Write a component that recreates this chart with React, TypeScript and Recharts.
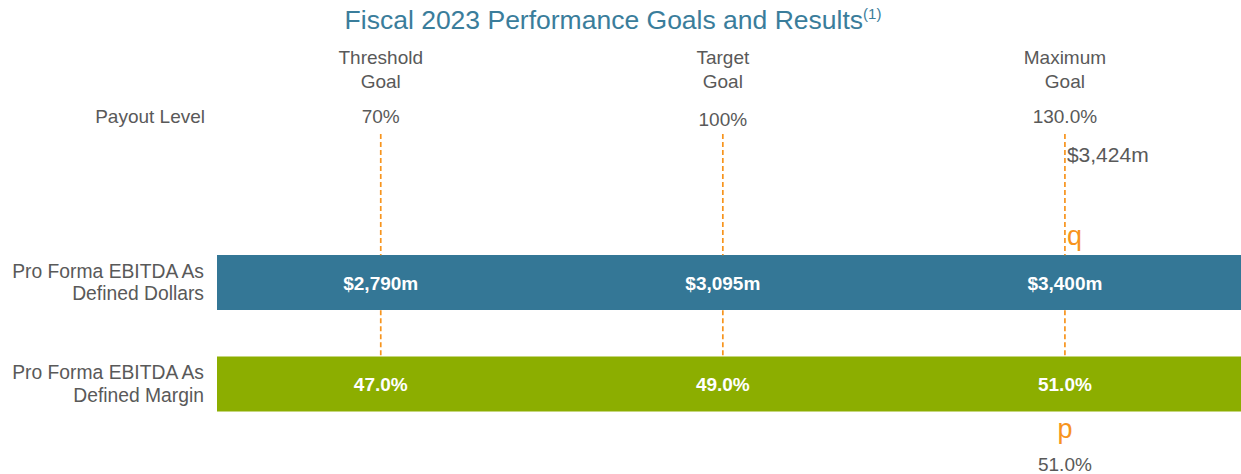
import React from "react";
import { BarChart, Bar, XAxis, YAxis, ReferenceLine, Cell } from "recharts";

// rows of the chart (y categories)
const rowNames = ["dollars", "margin"];
const rowLabels = [
	["Pro Forma EBITDA As", "Defined Dollars"],
	["Pro Forma EBITDA As", "Defined Margin"],
];
const rowColors = ["#347796", "#8cae00"];

// goals (x positions come from the dollar goals)
const goalNames = [
	["Threshold", "Goal"],
	["Target", "Goal"],
	["Maximum", "Goal"],
];
const payoutLevels = ["70%", "100%", "130.0%"];
const dollarGoals = [2790, 3095, 3400];
const marginGoals = [47.0, 49.0, 51.0];

// fiscal 2023 results
const actualDollars = 3424;
const actualMargin = 51.0;

const AXIS_MIN = 2644;
const AXIS_MAX = 3557;

const WIDTH = 1241;
const HEIGHT = 474;
const BAR_SIZE = 55;
const GUIDE_TOP = 134;
const GRAY = "#595959";
const ORANGE = "#f7941d";
const FONT = "'Liberation Sans', Arial, sans-serif";

const rows = rowNames.map((name) => ({ name, span: [AXIS_MIN, AXIS_MAX] }));

const fmtDollars = (v: number) => `$${v.toLocaleString("en-US")}m`;
const fmtPct = (v: number) => `${v.toFixed(1)}%`;

function bandInfo(y1: number, y2: number) {
	const top = Math.min(y1, y2);
	const bottom = Math.max(y1, y2);
	const band = (bottom - top) / rowNames.length;
	return { top, band };
}

function DashedGuide(props: any) {
	const { x1, y1, y2 } = props;
	const { top, band } = bandInfo(y1, y2);
	const pad = (band - BAR_SIZE) / 2;
	const blueTop = top + pad;
	const blueBottom = blueTop + BAR_SIZE;
	const greenTop = top + band + pad;
	return (
		<g stroke={ORANGE} strokeWidth={1.7} strokeDasharray="5 3">
			<line x1={x1} x2={x1} y1={GUIDE_TOP} y2={blueTop} />
			<line x1={x1} x2={x1} y1={blueBottom} y2={greenTop} />
		</g>
	);
}

function GoalLabels({ viewBox, idx }: any) {
	const x = viewBox.x;
	const { top, band } = bandInfo(viewBox.y, viewBox.y + viewBox.height);
	const c0 = top + band / 2;
	const c1 = top + band * 1.5;
	return (
		<g fontFamily={FONT} textAnchor="middle">
			<text x={x} y={64} fontSize={19} fill={GRAY}>{goalNames[idx][0]}</text>
			<text x={x} y={88} fontSize={19} fill={GRAY}>{goalNames[idx][1]}</text>
			<text x={x} y={idx === 1 ? 126 : 123} fontSize={19} fill={GRAY}>{payoutLevels[idx]}</text>
			<text x={x} y={c0 + 7} fontSize={19} fontWeight="bold" fill="#fff">{fmtDollars(dollarGoals[idx])}</text>
			<text x={x} y={c1 + 7} fontSize={19} fontWeight="bold" fill="#fff">{fmtPct(marginGoals[idx])}</text>
		</g>
	);
}

function ResultLabels({ viewBox }: any) {
	const x = viewBox.x;
	return (
		<g fontFamily={FONT}>
			<text x={x + 2} y={162} fontSize={21} fill={GRAY}>{fmtDollars(actualDollars)}</text>
			<text x={x + 2} y={245} fontSize={27} fill={ORANGE}>q</text>
			<text x={x} y={438} fontSize={27} fill={ORANGE} textAnchor="middle">p</text>
			<text x={x} y={471} fontSize={19} fill={GRAY} textAnchor="middle">{fmtPct(actualMargin)}</text>
		</g>
	);
}

function RowTick({ x, y, index }: any) {
	const lines = rowLabels[index] ?? [];
	return (
		<g fontFamily={FONT} fontSize={19.3} fill={GRAY} textAnchor="end">
			<text x={x} y={y - 5}>{lines[0]}</text>
			<text x={x} y={y + 17.5}>{lines[1]}</text>
		</g>
	);
}

export default function App() {
	const maxGoal = dollarGoals[dollarGoals.length - 1];
	return (
		<div style={{ position: "absolute", left: 0, top: 0, width: WIDTH, height: HEIGHT, background: "#fff" }}>
			<BarChart
				width={WIDTH}
				height={HEIGHT}
				data={rows}
				layout="vertical"
				margin={{ top: 232, right: 0, bottom: 39, left: 0 }}
			>
				<XAxis type="number" domain={[AXIS_MIN, AXIS_MAX]} allowDataOverflow hide />
				<YAxis
					type="category"
					dataKey="name"
					width={217}
					axisLine={false}
					tickLine={false}
					tickSize={0}
					tickMargin={13}
					tick={(p: any) => <RowTick {...p} />}
				/>
				<Bar dataKey="span" barSize={BAR_SIZE} isAnimationActive={false}>
					{rows.map((r, i) => (
						<Cell key={r.name} fill={rowColors[i]} />
					))}
				</Bar>
				{dollarGoals.map((g, i) => (
					<ReferenceLine
						key={g}
						x={g}
						shape={(p: any) => <DashedGuide {...p} />}
						label={(p: any) => <GoalLabels viewBox={p.viewBox} idx={i} />}
					/>
				))}
				<ReferenceLine
					x={Math.min(actualDollars, maxGoal)}
					stroke="none"
					label={(p: any) => <ResultLabels viewBox={p.viewBox} />}
				/>
				<text x={613} y={29} textAnchor="middle" fontFamily={FONT} fontSize={26.5} fill="#3a7d9b">
					Fiscal 2023 Performance Goals and Results
					<tspan fontSize={15} dy={-10}>(1)</tspan>
				</text>
				<text x={205} y={123} textAnchor="end" fontFamily={FONT} fontSize={19} fill={GRAY}>
					Payout Level
				</text>
			</BarChart>
		</div>
	);
}
